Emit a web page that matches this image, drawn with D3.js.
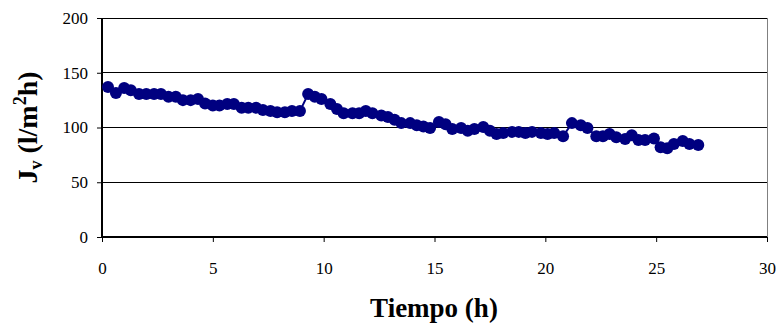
<!DOCTYPE html>
<html>
<head>
<meta charset="utf-8">
<script src="https://cdn.jsdelivr.net/npm/d3@7"></script>
<style>
  html, body { margin: 0; padding: 0; background: #fff; }
  svg { display: block; }
  svg text { font-family: "Liberation Serif", "Times New Roman", "DejaVu Serif", serif !important; fill: #000; }
</style>
</head>
<body>
<svg id="chart" width="779" height="326"></svg>
<script>
// Permeate flux over time
const tiempo = [0.27, 0.63, 1.0, 1.3, 1.67, 2.0, 2.35, 2.66, 3.0, 3.33, 3.65, 4.0, 4.33, 4.65,
  5.0, 5.3, 5.65, 5.95, 6.3, 6.6, 6.95, 7.26, 7.6, 7.9, 8.25, 8.57, 8.93,
  9.3, 9.6, 9.9, 10.3, 10.6, 10.9, 11.3, 11.6, 11.9, 12.2, 12.6, 12.9, 13.2, 13.5, 13.9,
  14.2, 14.5, 14.8, 15.2, 15.5, 15.8, 16.2, 16.5, 16.8, 17.2, 17.5, 17.8, 18.1, 18.5,
  18.8, 19.1, 19.4, 19.8, 20.1, 20.4, 20.8, 21.2, 21.6, 21.9, 22.3, 22.6, 22.9, 23.2,
  23.6, 23.9, 24.2, 24.5, 24.9, 25.2, 25.5, 25.8, 26.2, 26.5, 26.9];
const flujo = [137, 131.5, 136, 134, 130.6, 130.6, 130.6, 130.6, 128, 128, 125, 125, 126, 122,
  120, 120, 121.5, 121.5, 118, 118, 118, 116, 115, 114, 114, 115, 115,
  130.6, 128, 126, 121.5, 117, 113, 113, 113, 115, 113, 111, 109.6, 107, 104, 104,
  102, 101, 99.5, 105, 103, 98.6, 99.5, 97, 98.6, 100.5, 97, 94, 95, 96,
  96, 95, 96, 95, 94, 95, 92, 104, 102, 99.5, 92, 92, 94, 91,
  89.5, 93, 88.6, 88.6, 90, 82, 81, 85, 87.7, 85, 84];
const xTicks = [0, 5, 10, 15, 20, 25, 30];
const yTicks = [0, 50, 100, 150, 200];

const svg = d3.select("#chart");
const mLeft = 102, mRight = 767, mTop = 18, mBottom = 237;

const x = d3.scaleLinear().domain([0, 30]).range([mLeft, mRight]);
const y = d3.scaleLinear().domain([0, 200]).range([mBottom, mTop]);

// horizontal gridlines
svg.append("g").selectAll("line").data(yTicks.filter(d => d > 0)).join("line")
  .attr("x1", mLeft).attr("x2", mRight)
  .attr("y1", d => y(d)).attr("y2", d => y(d))
  .attr("stroke", "#000").attr("stroke-width", 1).attr("shape-rendering", "crispEdges");

// right border of plot area
svg.append("line")
  .attr("x1", mRight).attr("x2", mRight).attr("y1", mTop).attr("y2", mBottom)
  .attr("stroke", "#808080").attr("stroke-width", 1).attr("shape-rendering", "crispEdges");

// axes
const xAxis = d3.axisBottom(x).tickValues(xTicks).tickSize(5).tickPadding(20).tickFormat(d3.format("d"));
const yAxis = d3.axisLeft(y).tickValues(yTicks).tickSize(5).tickPadding(9).tickFormat(d3.format("d"));

const gx = svg.append("g").attr("transform", `translate(0,${mBottom})`).call(xAxis);
const gy = svg.append("g").attr("transform", `translate(${mLeft},0)`).call(yAxis);
[gx, gy].forEach(g => {
  g.attr("font-family", null);
  g.select(".domain").attr("stroke", "#000").attr("stroke-width", 2);
  g.selectAll(".tick line").attr("stroke", "#000").attr("stroke-width", 1);
  g.selectAll(".tick text").attr("font-size", 17).attr("fill", "#000");
});
gx.select(".domain").attr("d", `M${mLeft},0H${mRight}`);
gy.select(".domain").attr("d", `M0,${mTop}V${mBottom}`);

// series
const pts = tiempo.map((t, i) => [t, flujo[i]]);
svg.append("path").datum(pts)
  .attr("fill", "none").attr("stroke", "#000080").attr("stroke-width", 2)
  .attr("d", d3.line().x(d => x(d[0])).y(d => y(d[1])));
svg.append("g").selectAll("circle").data(pts).join("circle")
  .attr("cx", d => x(d[0])).attr("cy", d => y(d[1])).attr("r", 6)
  .attr("fill", "#000080");

// axis titles
svg.append("text")
  .attr("x", 434).attr("y", 317)
  .attr("text-anchor", "middle").attr("font-size", 27).attr("font-weight", "bold")
  .text("Tiempo (h)");

const yt = svg.append("text")
  .attr("transform", `translate(37,${(mTop + mBottom) / 2}) rotate(-90)`)
  .attr("text-anchor", "middle").attr("font-size", 28).attr("font-weight", "bold");
yt.append("tspan").text("J");
yt.append("tspan").attr("font-size", 18).attr("dy", 5).text("v");
yt.append("tspan").attr("dy", -5).text(" (l/m");
yt.append("tspan").attr("font-size", 18).attr("dy", -11).text("2");
yt.append("tspan").attr("dy", 11).text("h)");
</script>
</body>
</html>
